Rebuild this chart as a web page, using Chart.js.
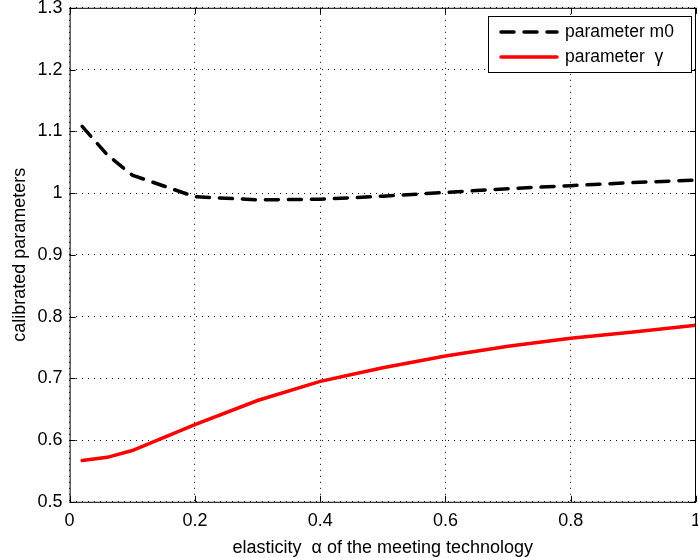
<!DOCTYPE html>
<html>
<head>
<meta charset="utf-8">
<script src="https://cdn.jsdelivr.net/npm/chart.js@4.4.0/dist/chart.umd.min.js"></script>
<style>
  html, body { margin: 0; padding: 0; background: #fff; overflow: hidden; }
  #wrap { position: relative; width: 709px; height: 573px; margin-top: -10px; }
</style>
</head>
<body>
<div id="wrap"><canvas id="calib"></canvas></div>
<script>
// --- data ---
const alphaValues = [0.02, 0.06, 0.1, 0.2, 0.3, 0.4, 0.5, 0.6, 0.7, 0.8, 0.9, 1.0];
const m0Values    = [1.108, 1.062, 1.029, 0.994, 0.989, 0.990, 0.995, 1.001, 1.007, 1.012, 1.017, 1.021];
const gammaValues = [0.567, 0.572, 0.583, 0.625, 0.664, 0.695, 0.717, 0.736, 0.752, 0.765, 0.775, 0.786];
const seriesNames = ['parameter m0', 'parameter  \u03b3'];
const xTickValues = [0, 0.2, 0.4, 0.6, 0.8, 1];
const yTickValues = [0.5, 0.6, 0.7, 0.8, 0.9, 1, 1.1, 1.2, 1.3];

const FONT = '"Liberation Sans", Arial, sans-serif';

// matlab style box + inward ticks + legend
const matlabFrame = {
    id: 'matlabFrame',
    afterDatasetsDraw(chart) {
        const { ctx, chartArea: a, scales } = chart;
        ctx.save();
        ctx.strokeStyle = '#000';
        ctx.lineWidth = 1;
        ctx.strokeRect(a.left + 0.5, a.top + 0.5, a.right - a.left - 1, a.bottom - a.top);
        ctx.beginPath();
        xTickValues.forEach(v => {
            const x = Math.round(scales.x.getPixelForValue(v)) + 0.5;
            ctx.moveTo(x, a.bottom); ctx.lineTo(x, a.bottom - 6);
            ctx.moveTo(x, a.top); ctx.lineTo(x, a.top + 6);
        });
        yTickValues.forEach(v => {
            const y = Math.round(scales.y.getPixelForValue(v)) + 0.5;
            ctx.moveTo(a.left, y); ctx.lineTo(a.left + 6, y);
            ctx.moveTo(a.right, y); ctx.lineTo(a.right - 6, y);
        });
        ctx.stroke();

        // legend box (top right, inside the axes); page is shifted up 10px
        const bx = 488, by = 26, bw = 203, bh = 56;
        ctx.fillStyle = '#fff';
        ctx.fillRect(bx, by, bw, bh);
        ctx.strokeRect(bx + 0.5, by + 0.5, bw, bh);
        ctx.font = '17.5px ' + FONT;
        ctx.textBaseline = 'middle';
        chart.data.datasets.forEach((ds, i) => {
            const y = by + 16 + i * 25;
            ctx.beginPath();
            ctx.lineWidth = ds.borderWidth;
            ctx.strokeStyle = ds.borderColor;
            ctx.lineCap = ds.borderCapStyle || 'butt';
            ctx.setLineDash(ds.borderDash || []);
            ctx.moveTo(bx + 13, y); ctx.lineTo(bx + 69, y);
            ctx.stroke();
            ctx.setLineDash([]);
            ctx.fillStyle = '#000';
            ctx.fillText(ds.label, bx + 77, y);
        });
        ctx.restore();
    }
};

const ctx = document.getElementById('calib').getContext('2d');
const chart = new Chart(ctx, {
    type: 'line',
    data: {
        datasets: [
            {
                label: seriesNames[0],
                data: alphaValues.map((a, i) => ({ x: a, y: m0Values[i] })),
                borderColor: '#000',
                borderWidth: 3.5,
                borderDash: [13, 10],
                borderCapStyle: 'round',
                pointRadius: 0,
                tension: 0,
                fill: false
            },
            {
                label: seriesNames[1],
                data: alphaValues.map((a, i) => ({ x: a, y: gammaValues[i] })),
                borderColor: '#ff0000',
                borderWidth: 3.5,
                borderCapStyle: 'round',
                pointRadius: 0,
                tension: 0,
                fill: false
            }
        ]
    },
    options: {
        responsive: true,
        maintainAspectRatio: false,
        animation: false,
        layout: { padding: { top: 0, right: 0, left: 4, bottom: 4 } },
        plugins: {
            legend: { display: false },
            tooltip: { enabled: false }
        },
        scales: {
            x: {
                type: 'linear',
                min: 0, max: 1,
                afterBuildTicks: s => { s.ticks = xTickValues.map(v => ({ value: v })); },
                ticks: {
                    color: '#000',
                    font: { family: FONT, size: 18 },
                    padding: 8,
                    maxRotation: 0,
                    callback: v => String(v)
                },
                grid: { color: '#000', lineWidth: 1, drawTicks: false },
                border: { display: false, dash: [1, 5] },
                title: {
                    display: true,
                    text: 'elasticity  \u03b1 of the meeting technology',
                    color: '#000',
                    font: { family: FONT, size: 18 },
                    padding: { top: -2, bottom: 0 }
                }
            },
            y: {
                type: 'linear',
                min: 0.5, max: 1.3,
                afterBuildTicks: s => { s.ticks = yTickValues.map(v => ({ value: v })); },
                ticks: {
                    color: '#000',
                    font: { family: FONT, size: 18 },
                    padding: 7,
                    callback: v => String(v)
                },
                grid: { color: '#000', lineWidth: 1, drawTicks: false },
                border: { display: false, dash: [1, 5] },
                title: {
                    display: true,
                    text: 'calibrated parameters',
                    color: '#000',
                    font: { family: FONT, size: 18 },
                    padding: { top: 5, bottom: 0 }
                }
            }
        }
    },
    plugins: [matlabFrame]
});
</script>
</body>
</html>
